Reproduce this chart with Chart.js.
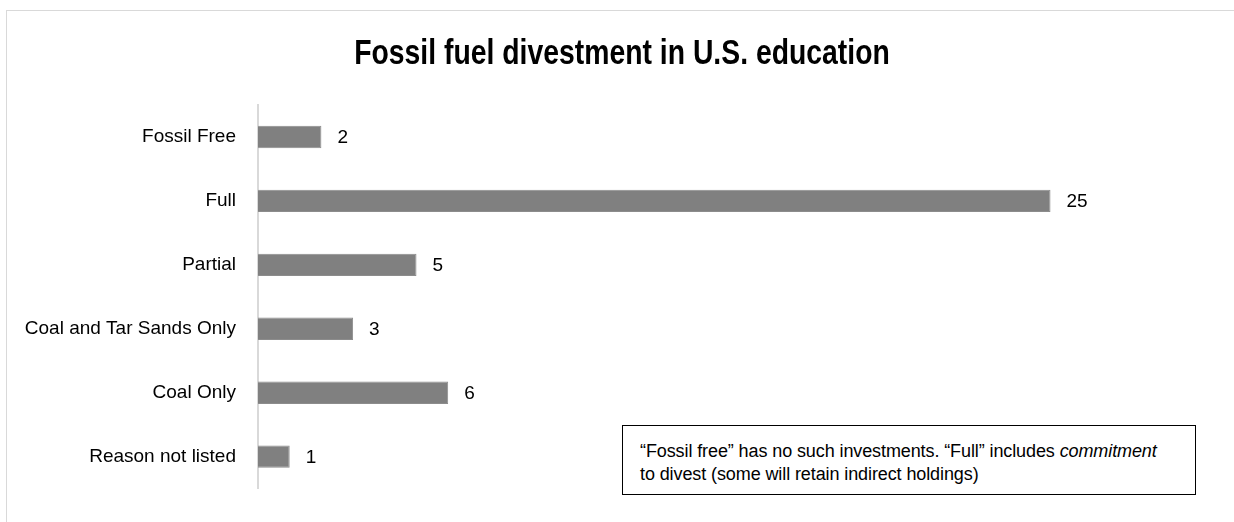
<!DOCTYPE html>
<html>
<head>
<meta charset="utf-8">
<script src="https://cdn.jsdelivr.net/npm/chart.js@4.4.1/dist/chart.umd.min.js"></script>
<style>
    html, body { margin: 0; padding: 0; background: #fff; overflow: hidden; }
    #wrap { position: relative; width: 1234px; height: 522px; }
    #frame {
        position: absolute; left: 6px; top: 10px; width: 1240px; height: 530px;
        border-left: 1px solid #d9d9d9; border-top: 1px solid #d9d9d9;
    }
    #note {
        position: absolute; left: 622px; top: 425px; width: 555px; height: 51px;
        border: 1px solid #000; padding: 14px 0 3px 17px;
        font-family: "Liberation Sans", Arial, sans-serif;
        font-size: 18px; line-height: 23px; color: #000; background: #fff;
        letter-spacing: -0.1px;
    }
</style>
</head>
<body>
<div id="wrap">
    <div id="frame"></div>
    <canvas id="myChart" width="1234" height="522"></canvas>
    <div id="note">“Fossil free” has no such investments. “Full” includes <i>commitment</i><br>to divest (some will retain indirect holdings)</div>
</div>
<script>
const categories = ['Fossil Free', 'Full', 'Partial', 'Coal and Tar Sands Only', 'Coal Only', 'Reason not listed'];
const institutions = [2, 25, 5, 3, 6, 1];
const chartTitle = 'Fossil fuel divestment in U.S. education';

const fontFamily = '"Liberation Sans", Arial, sans-serif';

// condensed bold heading, squeezed horizontally
const condensedTitle = {
    id: 'condensedTitle',
    afterDraw(chart) {
        const c = chart.ctx;
        c.save();
        c.translate(622, 64);
        c.scale(0.81, 1);
        c.font = 'bold 35px ' + fontFamily;
        c.fillStyle = '#000';
        c.textAlign = 'center';
        c.textBaseline = 'alphabetic';
        c.fillText(chartTitle, 0, 0);
        c.restore();
    }
};

// writes each count just past the end of its bar
const valueLabels = {
    id: 'valueLabels',
    afterDatasetsDraw(chart) {
        const c = chart.ctx;
        const meta = chart.getDatasetMeta(0);
        c.save();
        c.font = '19px ' + fontFamily;
        c.fillStyle = '#000';
        c.textAlign = 'left';
        c.textBaseline = 'middle';
        meta.data.forEach((bar, i) => {
            c.fillText(String(institutions[i]), bar.x + 16, bar.y + 1);
        });
        c.restore();
    }
};

const ctx = document.getElementById('myChart').getContext('2d');
const myChart = new Chart(ctx, {
    type: 'bar',
    data: {
        labels: categories,
        datasets: [{
            data: institutions,
            backgroundColor: '#808080',
            borderColor: '#8c8c8c',
            borderWidth: 1,
            barPercentage: 0.35,
            categoryPercentage: 1
        }]
    },
    options: {
        indexAxis: 'y',
        responsive: false,
        animation: false,
        layout: { padding: { left: 6, right: 25, top: 105, bottom: 23 } },
        plugins: {
            legend: { display: false },
            tooltip: { enabled: false },
            title: { display: false }
        },
        scales: {
            x: {
                display: false,
                min: 0,
                max: 30
            },
            y: {
                afterFit(scale) {
                    scale.width = 252;
                },
                grid: { display: false, drawTicks: false },
                border: { display: true, color: '#d9d9d9', width: 2 },
                ticks: {
                    padding: 22,
                    color: '#000',
                    font: { family: fontFamily, size: 19 }
                }
            }
        }
    },
    plugins: [valueLabels, condensedTitle]
});
</script>
</body>
</html>
